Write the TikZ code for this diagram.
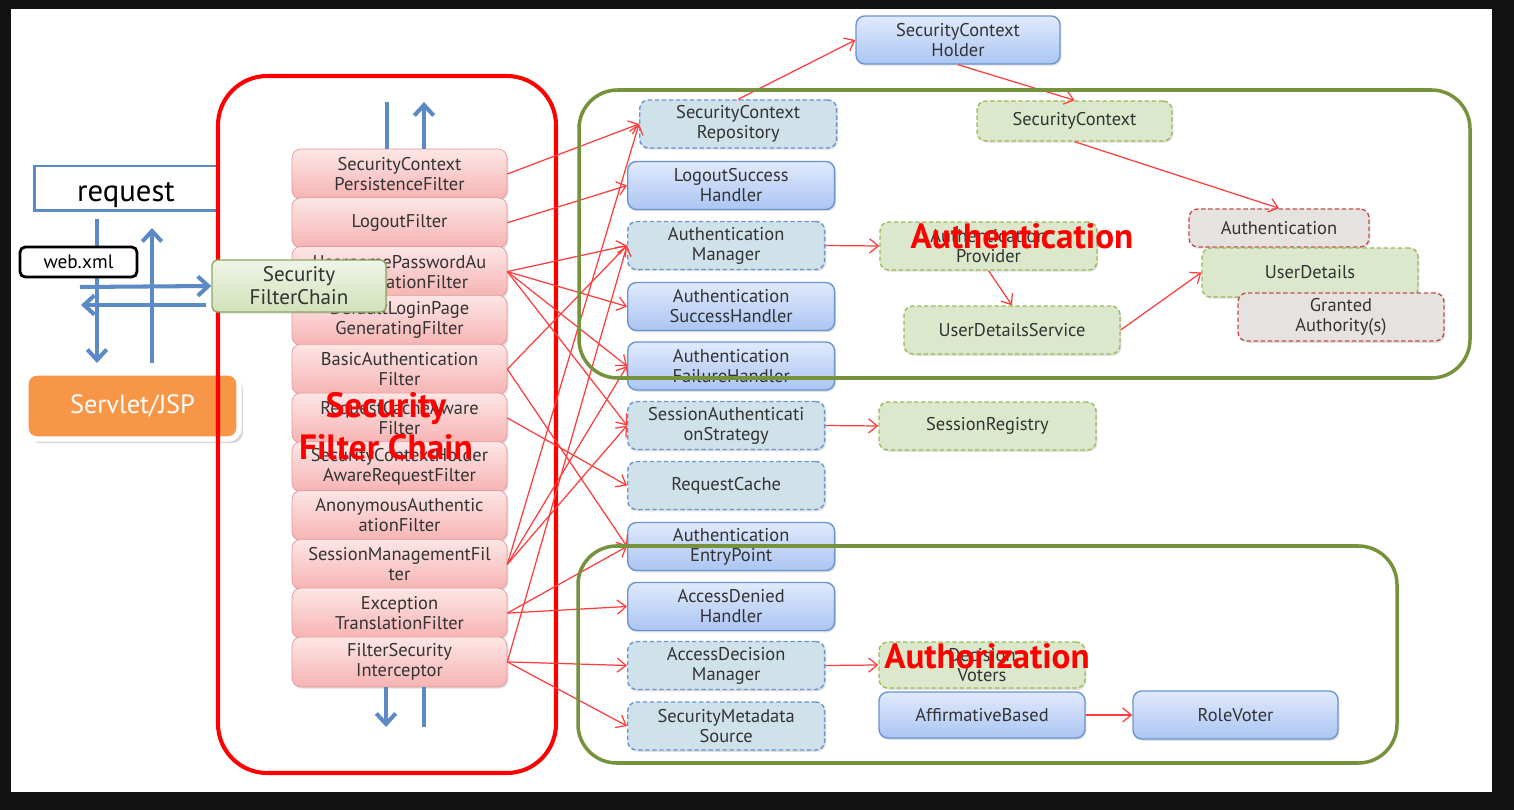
\documentclass[tikz,border=0pt]{standalone}
\usepackage{fontspec}
\setmainfont{PT Sans}
\usetikzlibrary{positioning,arrows.meta,shadows}
\definecolor{frame}{HTML}{121212}
\definecolor{filtertop}{HTML}{FDE6E6}
\definecolor{filterbot}{HTML}{F7B3B3}
\definecolor{filterline}{HTML}{E19A9A}
\definecolor{bluetop}{HTML}{E0EAFC}
\definecolor{bluebot}{HTML}{ABC5F3}
\definecolor{blueline}{HTML}{6A94D2}
\definecolor{repofill}{HTML}{CFE1E9}
\definecolor{greenfill}{HTML}{DCE8CB}
\definecolor{greenline}{HTML}{9BBB59}
\definecolor{greyfill}{HTML}{E6E2DF}
\definecolor{greyline}{HTML}{C0504D}
\definecolor{grouprim}{HTML}{76923C}
\definecolor{flowblue}{HTML}{5B8AC6}
\definecolor{linkred}{HTML}{FF3B3B}
\definecolor{servletorange}{HTML}{F79646}
\definecolor{chaintop}{HTML}{EFF5E7}
\definecolor{chainbot}{HTML}{D2E1BA}
\definecolor{chainline}{HTML}{8CA862}
\newcommand{\boxfont}{\fontsize{10.5}{11.4}\selectfont}
\newcommand{\markfont}{\bfseries\fontsize{20}{24}\selectfont}
\tikzset{
    boxshadow/.style = {drop shadow={opacity=0.25, shadow xshift=0.8pt, shadow yshift=-1pt}},
    filter/.style = {draw=filterline, rounded corners=5pt, boxshadow,
        top color=filtertop, bottom color=filterbot,
        minimum width=4.3cm, minimum height=1cm, align=center,
        inner sep=1pt, text=black!80, font=\boxfont},
    handler/.style = {draw=blueline, line width=0.8pt, rounded corners=5pt, boxshadow,
        top color=bluetop, bottom color=bluebot,
        minimum width=4.14cm, minimum height=0.96cm, align=center,
        inner sep=1pt, text=black!80, font=\boxfont},
    strategy/.style = {draw=blueline, line width=0.8pt, dash pattern=on 2.5pt off 1.5pt,
        rounded corners=5pt, boxshadow, fill=repofill,
        minimum width=3.94cm, minimum height=0.96cm, align=center,
        inner sep=1pt, text=black!80, font=\boxfont},
    store/.style = {draw=greenline, line width=0.8pt, dash pattern=on 2.5pt off 1.5pt,
        rounded corners=5pt, boxshadow, fill=greenfill,
        minimum height=0.96cm, align=center, inner sep=1pt,
        text=black!80, font=\boxfont},
    token/.style = {draw=greyline, line width=0.8pt, dash pattern=on 2.5pt off 1.5pt,
        rounded corners=5pt, boxshadow, fill=greyfill,
        minimum height=0.96cm, align=center, inner sep=1pt,
        text=black!80, font=\boxfont},
    group/.style = {draw=grouprim, line width=2pt, rounded corners=22pt},
    link/.style = {draw=linkred, line width=0.7pt, ->},
    flow/.style = {draw=flowblue, line width=2.3pt},
    flowarrow/.style = {flow, -{Straight Barb[length=6pt,width=11pt]}},
    redmark/.style = {text=red, font=\markfont, align=center}
}
\begin{document}
\begin{tikzpicture}[x=0.02cm, y=-0.02cm, node distance=0.976cm, >={Straight Barb[length=5pt,width=8pt]}]
    \useasboundingbox (0,0) rectangle (1514,810);
    \fill[frame] (0,0) rectangle (1514,810);
    \fill[white] (11,9) rectangle (1492,792);

    \node [draw=flowblue, line width=1.7pt, minimum width=3.68cm, minimum height=0.9cm,
        text height=15pt, text depth=0pt,
        font=\fontsize{17.5}{17.5}\selectfont] (request) at (126,188.5) {request};
    \coordinate (reqdown) at (97,219);
    \coordinate (srvdown) at (97,363);
    \coordinate (srvup) at (152,363);
    \coordinate (requp) at (152,228);
    \coordinate (inleft) at (80,287);
    \coordinate (backright) at (206,305);
    \coordinate (backleft) at (81,305);
    \draw [flowarrow] (reqdown) -- (srvdown);
    \draw [flowarrow] (srvup) -- (requp);
    \node [draw=black, line width=1.6pt, rounded corners=3pt, fill=white,
        minimum width=2.34cm, minimum height=0.6cm,
        font=\fontsize{11}{11}\selectfont] (webxml) at (78.5,262) {web.xml};
    \node [fill=servletorange, draw=white, line width=3pt, rounded corners=6pt,
        minimum width=4.26cm, minimum height=1.32cm, text=white,
        drop shadow={opacity=0.3, shadow xshift=2.2pt, shadow yshift=-2.4pt},
        font=\fontsize{15}{15}\selectfont] (servlet) at (132.5,406) {Servlet/JSP};

    \draw [red, line width=2.3pt, rounded corners=28pt] (218,76) rectangle (556,773);

    \node [filter] (scpf) at (399.5,174) {SecurityContext\\PersistenceFilter};
    \node [filter, below of=scpf] (logout) {LogoutFilter};
    \node [filter, below of=logout] (upaf) {UsernamePasswordAu\\thenticationFilter};
    \node [filter, below of=upaf] (dlpg) {DefaultLoginPage\\GeneratingFilter};
    \node [filter, below of=dlpg] (basic) {BasicAuthentication\\Filter};
    \node [filter, below of=basic] (rca) {RequestCacheAware\\Filter};
    \node [filter, below of=rca] (schar) {SecurityContextHolder\\AwareRequestFilter};
    \node [filter, below of=schar] (anon) {AnonymousAuthentic\\ationFilter};
    \node [filter, below of=anon] (sm) {SessionManagementFil\\ter};
    \node [filter, below of=sm] (etf) {Exception\\TranslationFilter};
    \node [filter, below of=etf] (fsi) {FilterSecurity\\Interceptor};

    \node [draw=chainline, line width=0.8pt, rounded corners=3pt, boxshadow,
        top color=chaintop, bottom color=chainbot,
        minimum width=3.48cm, minimum height=1.04cm, align=center,
        inner sep=1pt, text=black!80,
        font=\fontsize{12}{13}\selectfont] (sfc) at (299,286) {Security\\FilterChain};
    \draw [flowarrow] (inleft) -- (sfc.west);
    \draw [flowarrow] (backright) -- (backleft);

    \coordinate (chainin) at (387,102);
    \coordinate (chainout) at (424,102);
    \coordinate (chainend) at (386,727);
    \coordinate (chainback) at (424,727);
    \draw [flow] (chainin) -- (chainin |- scpf.north);
    \draw [flowarrow] (chainout |- scpf.north) -- (chainout);
    \draw [flowarrow] (chainend |- fsi.south) -- (chainend);
    \draw [flow] (chainback |- fsi.south) -- (chainback);

    \node [strategy, anchor=west] (repo) at (639,124) {SecurityContext\\Repository};
    \node [handler, anchor=west] (logoutok) at (627,185.5) {LogoutSuccess\\Handler};
    \node [strategy, anchor=west] (authmgr) at (627,245.5) {Authentication\\Manager};
    \node [handler, anchor=west] (authok) at (627,306.5) {Authentication\\SuccessHandler};
    \node [handler, anchor=west] (authfail) at (627,366) {Authentication\\FailureHandler};
    \node [strategy, anchor=west] (sas) at (627,425.5) {SessionAuthenticati\\onStrategy};
    \node [strategy, anchor=west] (cache) at (627,485.5) {RequestCache};
    \node [handler, anchor=west] (entry) at (627,546.5) {Authentication\\EntryPoint};
    \node [handler, anchor=west] (denied) at (627,606.5) {AccessDenied\\Handler};
    \node [strategy, anchor=west] (adm) at (627,665.5) {AccessDecision\\Manager};
    \node [strategy, anchor=west] (meta) at (627,726) {SecurityMetadata\\Source};

    \node [handler, minimum width=4.08cm] (holder) at (958,40) {SecurityContext\\Holder};
    \node [store, minimum width=3.9cm, minimum height=0.8cm] (context) at (1074.5,121) {SecurityContext};
    \node [store, minimum width=4.34cm] (provider) at (988.5,246) {Authentication\\Provider};
    \node [store, minimum width=4.32cm] (uds) at (1012,330) {UserDetailsService};
    \node [token, minimum width=3.6cm, minimum height=0.76cm] (authn) at (1279,228) {Authentication};
    \node [store, minimum width=4.32cm, minimum height=0.98cm] (details) at (1310,272.5) {UserDetails};
    \node [token, minimum width=4.12cm] (granted) at (1341,317) {Granted\\Authority(s)};
    \node [store, minimum width=4.34cm] (registry) at (987.5,426) {SessionRegistry};
    \node [store, minimum width=4.12cm, minimum height=0.92cm] (voters) at (982,665) {Decision\\Voters};
    \node [handler, minimum width=4.12cm, minimum height=0.92cm] (affirm) at (982,715) {AffirmativeBased};
    \node [handler, minimum width=4.1cm] (role) at (1235.5,715) {RoleVoter};

    \draw [link] (scpf.east) -- (repo.west);
    \draw [link] (logout.east) -- (logoutok.west);
    \draw [link] (upaf.east) -- (authmgr.west);
    \draw [link] (upaf.east) -- (authok.west);
    \draw [link] (upaf.east) -- (authfail.west);
    \draw [link] (upaf.east) -- (sas.west);
    \draw [link] (basic.east) -- (authmgr.west);
    \draw [link] (basic.east) -- (entry.west);
    \draw [link] (rca.east) -- (cache.west);
    \draw [link] (sm.east) -- (repo.west);
    \draw [link] (sm.east) -- (authfail.west);
    \draw [link] (sm.east) -- (sas.west);
    \draw [link] (etf.east) -- (entry.west);
    \draw [link] (etf.east) -- (denied.west);
    \draw [link] (fsi.east) -- (authmgr.west);
    \draw [link] (fsi.east) -- (adm.west);
    \draw [link] (fsi.east) -- (meta.west);
    \draw [link] (repo.north) -- (holder.west);
    \draw [link] (holder.south) -- (context.north);
    \draw [link] (context.south) -- (authn.north);
    \draw [link] (authmgr.east) -- (provider.west);
    \draw [link] (provider.south) -- (uds.north);
    \draw [link] (uds.east) -- (details.west);
    \draw [link] (sas.east) -- (registry.west);
    \draw [link] (adm.east) -- (voters.west);
    \draw [link] (affirm.east) -- (role.west);

    \draw [group] (579,90) rectangle (1470,378);
    \draw [group] (578,546) rectangle (1397,763);

    \node [redmark] (chainmark) at (386,426) {Security\\Filter Chain};
    \node [redmark] (authnmark) at (1022,236) {Authentication};
    \node [redmark] (authzmark) at (987,656) {Authorization};
\end{tikzpicture}
\end{document}
